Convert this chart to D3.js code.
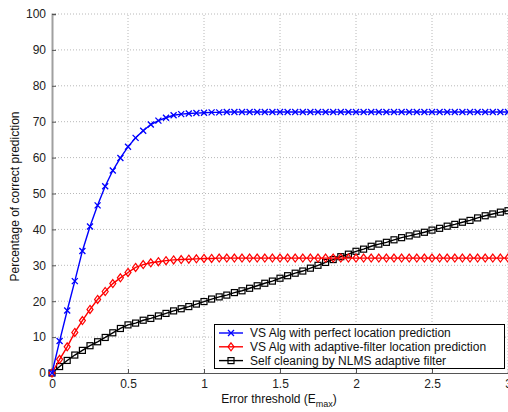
<!DOCTYPE html>
<html>
<head>
<meta charset="utf-8">
<script src="https://cdnjs.cloudflare.com/ajax/libs/d3/7.8.5/d3.min.js"></script>
<style>
	body { margin: 0; background: #fff; }
	svg { display: block; font-family: "Liberation Sans", Arial, sans-serif; }
</style>
</head>
<body>
<div id="chart"></div>
<script>
// error threshold (E_max) sample points
var thresholds = [0, 0.05, 0.1, 0.15, 0.2, 0.25, 0.3, 0.35, 0.4, 0.45, 0.5, 0.55, 0.6, 0.65, 0.7, 0.75,
	0.8, 0.85, 0.9, 0.95, 1, 1.05, 1.1, 1.15, 1.2, 1.25, 1.3, 1.35, 1.4, 1.45, 1.5, 1.55, 1.6, 1.65,
	1.7, 1.75, 1.8, 1.85, 1.9, 1.95, 2, 2.05, 2.1, 2.15, 2.2, 2.25, 2.3, 2.35, 2.4, 2.45, 2.5, 2.55,
	2.6, 2.65, 2.7, 2.75, 2.8, 2.85, 2.9, 2.95, 3];

var perfectPred = [0, 8.9, 17.4, 25.6, 34.0, 40.8, 46.7, 52.0, 56.4, 59.9, 63.0, 65.5, 67.5, 69.2, 70.3, 71.1,
	71.8, 72.1, 72.3, 72.4, 72.5, 72.6, 72.6, 72.7, 72.7, 72.7, 72.7, 72.7, 72.7, 72.7, 72.7, 72.7, 72.7, 72.7,
	72.7, 72.7, 72.7, 72.7, 72.7, 72.7, 72.7, 72.7, 72.7, 72.7, 72.7, 72.7, 72.7, 72.7, 72.7, 72.7, 72.7, 72.7,
	72.7, 72.7, 72.7, 72.7, 72.7, 72.7, 72.7, 72.7, 72.7];

var adaptivePred = [0, 3.8, 7.3, 11.3, 14.6, 17.7, 20.5, 22.7, 24.9, 26.5, 28.0, 29.4, 30.2, 30.7, 31.0, 31.3,
	31.5, 31.6, 31.7, 31.8, 31.9, 31.9, 32, 32, 32, 32, 32, 32, 32, 32, 32, 32, 32, 32,
	32, 32, 32, 32, 32, 32, 32, 32, 32, 32, 32, 32, 32, 32, 32, 32, 32, 32,
	32, 32, 32, 32, 32, 32, 32, 32, 32];

var selfCleaning = [0, 1.8, 3.5, 5.0, 6.3, 7.6, 8.7, 9.9, 11.2, 12.4, 13.4, 13.9, 14.7, 15.2, 15.9, 16.6,
	17.3, 17.9, 18.5, 19.2, 19.9, 20.6, 21.2, 21.7, 22.4, 22.9, 23.6, 24.3, 25.0, 25.6, 26.4, 27.1, 27.8, 28.4,
	29.2, 30.0, 30.8, 31.6, 32.4, 33.1, 33.9, 34.5, 35.3, 35.9, 36.4, 37.1, 37.7, 38.2, 38.7, 39.2, 39.8, 40.3,
	40.9, 41.4, 42.0, 42.5, 43.2, 43.8, 44.3, 44.8, 45.2];

var seriesNames = [
	"VS Alg with perfect location prediction",
	"VS Alg with adaptive-filter location prediction",
	"Self cleaning by NLMS adaptive filter"
];
var seriesColors = ["#0000ff", "#ff0000", "#000000"];
var seriesMarkers = ["x", "diamond", "square"];

var xTicks = [0, 0.5, 1, 1.5, 2, 2.5, 3];
var yTicks = [0, 10, 20, 30, 40, 50, 60, 70, 80, 90, 100];

var width = 508;
var height = 412;
var margin = {left: 52, right: 0, top: 14, bottom: 39};

var svg = d3.select("#chart")
	.append("svg")
	.attr("width", width)
	.attr("height", height);

var x = d3.scaleLinear().domain([0, 3]).range([margin.left, width - margin.right]);
var y = d3.scaleLinear().domain([0, 100]).range([height - margin.bottom, margin.top]);

// dotted grid
var grid = svg.append("g").attr("class", "grid");
grid.selectAll("line.gx")
	.data(xTicks.slice(1))
	.enter().append("line")
	.attr("x1", function(d) { return x(d); })
	.attr("x2", function(d) { return x(d); })
	.attr("y1", y(0))
	.attr("y2", y(100))
	.attr("stroke", "#b8b8b8")
	.attr("stroke-width", 1)
	.attr("stroke-dasharray", "1,2");
grid.selectAll("line.gy")
	.data(yTicks.slice(1))
	.enter().append("line")
	.attr("x1", x(0))
	.attr("x2", x(3))
	.attr("y1", function(d) { return y(d); })
	.attr("y2", function(d) { return y(d); })
	.attr("stroke", "#b8b8b8")
	.attr("stroke-width", 1)
	.attr("stroke-dasharray", "1,2");

// axes
var xAxis = d3.axisBottom(x).tickValues(xTicks).tickSize(-4).tickPadding(6)
	.tickFormat(function(d) { return d3.format("")(d); });
var yAxis = d3.axisLeft(y).tickValues(yTicks).tickSize(-4).tickPadding(6);

var gx = svg.append("g")
	.attr("transform", "translate(0," + y(0) + ")")
	.call(xAxis);
var gy = svg.append("g")
	.attr("transform", "translate(" + x(0) + ",0)")
	.call(yAxis);

gx.select(".domain").attr("stroke", "#555").attr("stroke-width", 1.2);
gy.select(".domain").attr("stroke", "#a0a0a0").attr("stroke-width", 2);
gx.selectAll(".tick line").attr("stroke", "#555");
gy.selectAll(".tick line").attr("stroke", "#555");
gx.selectAll("text").attr("font-size", 12).attr("fill", "#222")
	.attr("font-family", "Liberation Sans, Arial, sans-serif");
gy.selectAll("text").attr("font-size", 12).attr("fill", "#222")
	.attr("font-family", "Liberation Sans, Arial, sans-serif");

// axis titles
var xt = svg.append("text")
	.attr("x", 279)
	.attr("y", 403)
	.attr("text-anchor", "middle")
	.attr("font-size", 12)
	.attr("fill", "#111");
xt.append("tspan").text("Error threshold (E");
xt.append("tspan").attr("font-size", 9).attr("dy", 4).text("max");
xt.append("tspan").attr("dy", -4).text(")");

svg.append("text")
	.attr("transform", "translate(19," + ((y(0) + y(100)) / 2 + 3) + ") rotate(-90)")
	.attr("text-anchor", "middle")
	.attr("font-size", 12)
	.attr("fill", "#111")
	.text("Percentage of correct prediction");

function drawMarker(g, type, cx, cy, color) {
	if (type == "x") {
		g.append("path")
			.attr("d", "M" + (cx - 3) + "," + (cy - 3) + "L" + (cx + 3) + "," + (cy + 3) +
				"M" + (cx - 3) + "," + (cy + 3) + "L" + (cx + 3) + "," + (cy - 3))
			.attr("stroke", color)
			.attr("stroke-width", 1.3)
			.attr("fill", "none");
	} else if (type == "diamond") {
		g.append("path")
			.attr("d", "M" + cx + "," + (cy - 4) + "L" + (cx + 3) + "," + cy +
				"L" + cx + "," + (cy + 4) + "L" + (cx - 3) + "," + cy + "Z")
			.attr("stroke", color)
			.attr("stroke-width", 1.2)
			.attr("fill", "none");
	} else {
		g.append("rect")
			.attr("x", cx - 3)
			.attr("y", cy - 3)
			.attr("width", 6)
			.attr("height", 6)
			.attr("stroke", color)
			.attr("stroke-width", 1.2)
			.attr("fill", "none");
	}
}

var allSeries = [perfectPred, adaptivePred, selfCleaning];
var line = d3.line()
	.x(function(d, i) { return x(thresholds[i]); })
	.y(function(d) { return y(d); });

var plot = svg.append("g").attr("class", "plot");
// draw in reverse so blue ends up on top
for (var s = allSeries.length - 1; s >= 0; s--) {
	var g = plot.append("g");
	g.append("path")
		.attr("d", line(allSeries[s]))
		.attr("fill", "none")
		.attr("stroke", seriesColors[s])
		.attr("stroke-width", 1.4);
	for (var i = 0; i < allSeries[s].length; i++) {
		drawMarker(g, seriesMarkers[s], x(thresholds[i]), y(allSeries[s][i]), seriesColors[s]);
	}
}

// legend
var legend = svg.append("g").attr("class", "legend");
legend.append("rect")
	.attr("x", 214.5)
	.attr("y", 324.5)
	.attr("width", 290)
	.attr("height", 44)
	.attr("fill", "#fff")
	.attr("stroke", "#000")
	.attr("stroke-width", 1);

for (var k = 0; k < seriesNames.length; k++) {
	var ly = 333 + k * 13.8;
	var lg = legend.append("g");
	lg.append("line")
		.attr("x1", 219)
		.attr("x2", 243)
		.attr("y1", ly)
		.attr("y2", ly)
		.attr("stroke", seriesColors[k])
		.attr("stroke-width", 1.4);
	drawMarker(lg, seriesMarkers[k], 231, ly, seriesColors[k]);
	lg.append("text")
		.attr("x", 250)
		.attr("y", ly + 4)
		.attr("font-size", 12)
		.attr("fill", "#111")
		.text(seriesNames[k]);
}
</script>
</body>
</html>
